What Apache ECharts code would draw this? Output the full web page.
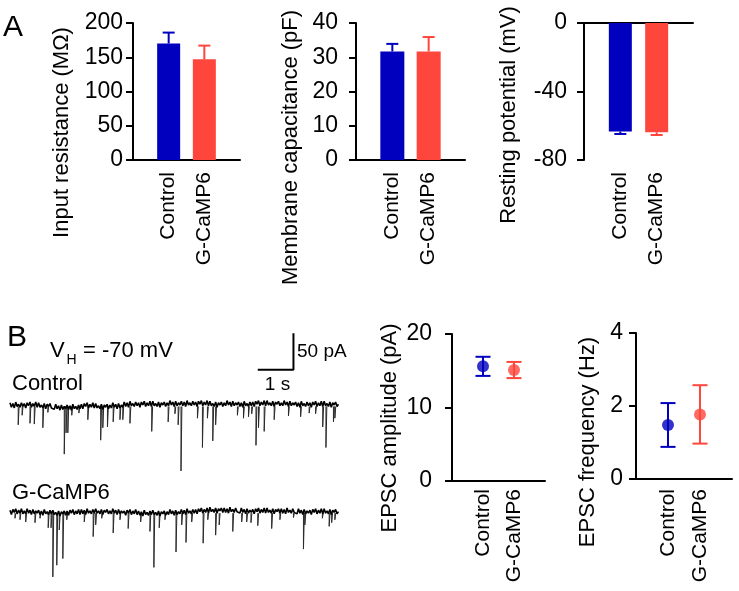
<!DOCTYPE html>
<html><head><meta charset="utf-8">
<script src="https://cdn.jsdelivr.net/npm/echarts@6/dist/echarts.min.js"></script>
<style>html,body{margin:0;padding:0;background:#fff}#c{width:739px;height:591px}</style>
</head><body><div id="c"></div>
<script>
// ---------- data ----------
const categories = ['Control', 'G-CaMP6'];
const inputResistanceMean = [170, 147];
const inputResistanceSem = [16, 20];
const capacitanceMean = [31.7, 31.7];
const capacitanceSem = [2.2, 4.2];
const restingMean = [-63.4, -63.8];
const restingSem = [1.4, 1.6];
const epscAmpMean = [15.6, 15.1];
const epscAmpSem = [1.3, 1.1];
const epscFreqMean = [1.48, 1.77];
const epscFreqSem = [0.6, 0.8];

const resistanceTicks = [0, 200, 50];
const capacitanceTicks = [0, 40, 10];
const restingTicks = [-80, 0, 40];
const ampTicks = [0, 20, 10];
const freqTicks = [0, 4, 2];

const traceStep = 0.04; // s between baseline samples (pA values)
const controlBaseline = [
 3,-3,2,-4,4,-2,1,-3,3,-2,
 2,-4,3,-1,4,-3,2,-2,4,-3,
 3,-3,0,-4,2,-5,1,-2,2,-4,
 -2,-6,1,-5,-1,-7,0,-6,-2,-5,
 0,-6,-1,-7,1,-5,-2,-6,0,-5,
 1,-5,2,-2,3,-4,1,-3,3,-4,
 2,-4,-1,-5,1,-6,0,-3,1,-5,
 0,-4,3,-3,1,-5,2,-4,0,-3,
 4,-2,3,-3,5,-1,2,-2,4,-1,
 3,-3,4,0,5,-2,3,-1,5,-2,
 5,-1,2,-2,4,-3,3,0,4,-2,
 3,-1,6,0,4,-2,5,-1,3,0,
 5,-1,4,-2,6,0,3,-1,5,0,
 4,-2,5,1,6,-1,4,0,6,-1,
 5,-1,2,-2,4,-3,3,0,4,-2,
 3,-1,6,0,4,-2,5,-1,3,0,
 4,-2,3,-3,5,-1,2,-2,4,-1,
 4,-2,5,1,6,-1,4,0,6,-1,
 6,0,3,-1,5,-2,4,1,5,-1,
 3,-1,6,0,4,-2,5,-1,3,0,
 4,-2,3,-3,5,-1,2,-2,4,-1,
 3,-3,4,0,5,-2,3,-1,5,-2,
 5,-1,2,-2,4,-3,3,0,4,-2,
 1];
const controlSpikeTime = [0.23,0.34,0.56,0.68,0.92,1.06,1.52,1.57,1.62,1.73,1.93,2.18,2.54,2.60,2.73,2.89,3.08,3.16,3.36,3.97,4.43,4.62,4.71,4.79,5.25,5.39,5.53,5.68,5.76,6.37,6.54,6.68,6.77,6.89,6.96,7.12,7.40,7.80,8.14,8.38,8.56,8.76,8.85,9.06,9.10];
const controlSpikeAmp = [-27,-14,-25,-26,-31,-10,-67,-38,-38,-14,-11,-20,-48,-31,-30,-23,-20,-20,-25,-36,-23,-12,-27,-90,-18,-58,-18,-49,-27,-14,-18,-16,-12,-55,-31,-36,-20,-15,-16,-11,-12,-30,-58,-23,-18];

const gcampBaseline = [
 2,-4,3,-1,4,-3,2,-2,4,-3,
 1,-3,4,-2,2,-4,3,-3,1,-2,
 2,-4,1,-5,3,-3,0,-4,2,-3,
 2,-4,-1,-5,1,-6,0,-3,1,-5,
 1,-5,2,-2,3,-4,1,-3,3,-4,
 3,-3,2,-4,4,-2,1,-3,3,-2,
 4,-2,1,-3,3,-4,2,-1,3,-3,
 1,-3,4,-2,2,-4,3,-3,1,-2,
 1,-5,2,-2,3,-4,1,-3,3,-4,
 1,-5,0,-6,2,-4,-1,-5,1,-4,
 2,-4,-1,-5,1,-6,0,-3,1,-5,
 0,-4,3,-3,1,-5,2,-4,0,-3,
 3,-3,2,-4,4,-2,1,-3,3,-2,
 3,-3,4,0,5,-2,3,-1,5,-2,
 6,0,3,-1,5,-2,4,1,5,-1,
 5,-1,4,-2,6,0,3,-1,5,0,
 2,-2,5,-1,3,-3,4,-2,2,-1,
 3,-3,4,0,5,-2,3,-1,5,-2,
 5,-1,2,-2,4,-3,3,0,4,-2,
 4,-2,3,-3,5,-1,2,-2,4,-1,
 1,-3,4,-2,2,-4,3,-3,1,-2,
 2,-4,3,-1,4,-3,2,-2,4,-3,
 4,-2,1,-3,3,-4,2,-1,3,-3,
 0];
const gcampSpikeTime = [0.14,0.28,0.44,0.70,0.84,1.07,1.15,1.20,1.31,1.38,1.48,1.59,2.08,2.33,2.40,2.57,2.89,3.08,3.31,3.66,3.92,4.03,4.18,4.34,4.65,4.81,4.93,5.09,5.41,5.54,5.76,5.86,6.24,6.49,6.63,6.75,6.94,7.33,7.56,7.94,8.22,8.26,8.75,8.94,9.01,9.10];
const gcampSpikeAmp = [-9,-11,-14,-15,-9,-22,-22,-89,-73,-25,-64,-11,-14,-34,-18,-9,-29,-11,-23,-14,-27,-76,-22,-11,-55,-18,-42,-14,-43,-11,-32,-18,-27,-14,-14,-15,-19,-23,-11,-8,-51,-18,-9,-20,-15,-11];

const scaleBarTime = [6.94, 7.94];   // 1 s
const scaleBarCurrent = [48, 98];    // 50 pA

// ---------- styling ----------
const colors = ['#0000BE', '#FF463C'];
const FONT = '"Liberation Sans", Arial, Helvetica, sans-serif';
const axisCats = [''].concat(categories, ['']);

function baselineData(base) {
  return base.map((v, i) => [+(i * traceStep).toFixed(3), v]);
}
function spikeData(st, sa) {
  return st.map((t, k) => [t, sa[k]]);
}
function spikeRender(params, api) {
  const t = api.value(0), a = api.value(1);
  const p0 = api.coord([t, -2]);
  const p1 = api.coord([t, a]);
  const p2 = api.coord([t + 0.025, -2]);
  return { type: 'polyline', shape: { points: [p0, p1, p2] },
    style: { stroke: '#2a2a2a', lineWidth: 1, fill: null } };
}
function barData(means) {
  return ['-'].concat(means.map((m, i) => ({ value: m, itemStyle: { color: colors[i] } })), ['-']);
}
function errData(means, sems) {
  return means.map((m, i) => [i + 1, m, sems[i], i]);
}
function errRender(mode, capHalf) {
  return function (params, api) {
    const x = api.value(0), m = api.value(1), s = api.value(2);
    const col = colors[api.value(3)];
    const top = mode === 'down' ? m : m + s;
    const bot = mode === 'up' ? m : m - s;
    const p1 = api.coord([x, top]), p2 = api.coord([x, bot]);
    const ch = [{ type: 'line', shape: { x1: p1[0], y1: p1[1], x2: p2[0], y2: p2[1] }, style: { stroke: col, lineWidth: 2 } }];
    if (mode !== 'down') ch.push({ type: 'line', shape: { x1: p1[0] - capHalf, y1: p1[1], x2: p1[0] + capHalf, y2: p1[1] }, style: { stroke: col, lineWidth: 2 } });
    if (mode !== 'up') ch.push({ type: 'line', shape: { x1: p2[0] - capHalf, y1: p2[1], x2: p2[0] + capHalf, y2: p2[1] }, style: { stroke: col, lineWidth: 2 } });
    return { type: 'group', children: ch };
  };
}

const lineStyle = { color: '#000', width: 2 };
const catLabel = (margin) => ({ show: true, rotate: 90, interval: 0, margin: margin, color: '#000', fontSize: 21, fontFamily: FONT });
function catAxis(grid, opts) {
  return Object.assign({
    type: 'category', gridIndex: grid, data: axisCats, boundaryGap: false,
    axisLine: { show: true, onZero: false, lineStyle },
    axisTick: { show: false },
    axisLabel: catLabel(12),
    splitLine: { show: false }
  }, opts || {});
}
function valAxis(grid, ticks, margin) {
  return {
    type: 'value', gridIndex: grid, min: ticks[0], max: ticks[1], interval: ticks[2],
    axisLine: { show: true, onZero: false, lineStyle },
    axisTick: { show: true, inside: false, length: 7, lineStyle },
    axisLabel: { color: '#000', fontSize: 23, fontFamily: FONT, margin: margin },
    splitLine: { show: false }
  };
}
function hiddenAxis(grid, min, max) {
  return { type: 'value', gridIndex: grid, min, max, show: false, splitLine: { show: false } };
}

function txt(text, x, y, size, opts) {
  opts = opts || {};
  return {
    type: 'text', x: x, y: y, rotation: opts.rot || 0, silent: true,
    style: {
      text: text, fill: '#000', font: size + 'px ' + FONT, fontSize: size, fontFamily: FONT,
      align: opts.align || 'left', textAlign: opts.align || 'left',
      verticalAlign: 'middle', textVerticalAlign: 'middle'
    }
  };
}

const chart = echarts.init(document.getElementById('c'), null, { renderer: 'canvas' });
const option = {
  backgroundColor: '#fff',
  animation: false,
  grid: [
    { left: 133, top: 23, width: 107, height: 137 },
    { left: 356, top: 23, width: 109, height: 137 },
    { left: 584, top: 23, width: 109, height: 137 },
    { left: 452, top: 334, width: 93, height: 147 },
    { left: 636, top: 333, width: 96, height: 146 },
    { left: 10, top: 331.7, width: 357, height: 146.6 },
    { left: 10, top: 497, width: 357, height: 88 }
  ],
  xAxis: [
    catAxis(0),
    catAxis(1),
    catAxis(2, { axisLine: { show: false, onZero: false } }),
    catAxis(2, { position: 'top', axisLabel: { show: false } }),
    catAxis(3, { axisLabel: catLabel(8) }),
    catAxis(4, { axisLabel: catLabel(10) }),
    hiddenAxis(5, 0, 10),
    hiddenAxis(6, 0, 10)
  ],
  yAxis: [
    valAxis(0, resistanceTicks, 10),
    valAxis(1, capacitanceTicks, 18),
    valAxis(2, restingTicks, 17),
    valAxis(3, ampTicks, 20),
    valAxis(4, freqTicks, 13),
    hiddenAxis(5, -100, 100),
    hiddenAxis(6, -100, 20)
  ],
  series: [
    { type: 'bar', xAxisIndex: 0, yAxisIndex: 0, barWidth: 23, data: barData(inputResistanceMean), silent: true },
    { type: 'custom', xAxisIndex: 0, yAxisIndex: 0, renderItem: errRender('up', 6), data: errData(inputResistanceMean, inputResistanceSem), encode: { x: 0, y: 1 }, z: 3, silent: true },
    { type: 'bar', xAxisIndex: 1, yAxisIndex: 1, barWidth: 24, data: barData(capacitanceMean), silent: true },
    { type: 'custom', xAxisIndex: 1, yAxisIndex: 1, renderItem: errRender('up', 6), data: errData(capacitanceMean, capacitanceSem), encode: { x: 0, y: 1 }, z: 3, silent: true },
    { type: 'bar', xAxisIndex: 2, yAxisIndex: 2, barWidth: 23, data: barData(restingMean), silent: true },
    { type: 'custom', xAxisIndex: 2, yAxisIndex: 2, renderItem: errRender('down', 6), data: errData(restingMean, restingSem), encode: { x: 0, y: 1 }, z: 3, silent: true },
    { type: 'custom', xAxisIndex: 4, yAxisIndex: 3, renderItem: errRender('both', 7.5), data: errData(epscAmpMean, epscAmpSem), encode: { x: 0, y: 1 }, z: 3, silent: true },
    { type: 'scatter', xAxisIndex: 4, yAxisIndex: 3, symbolSize: 12, z: 4, silent: true,
      data: epscAmpMean.map((m, i) => ({ value: [i + 1, m], itemStyle: { color: colors[i] } })) },
    { type: 'custom', xAxisIndex: 5, yAxisIndex: 4, renderItem: errRender('both', 7.5), data: errData(epscFreqMean, epscFreqSem), encode: { x: 0, y: 1 }, z: 3, silent: true },
    { type: 'scatter', xAxisIndex: 5, yAxisIndex: 4, symbolSize: 12, z: 4, silent: true,
      data: epscFreqMean.map((m, i) => ({ value: [i + 1, m], itemStyle: { color: colors[i] } })) },
    // traces: noisy baseline + synaptic events
    { type: 'line', xAxisIndex: 6, yAxisIndex: 5, showSymbol: false, silent: true,
      lineStyle: { color: '#000', width: 1.6 }, data: baselineData(controlBaseline) },
    { type: 'custom', xAxisIndex: 6, yAxisIndex: 5, renderItem: spikeRender, silent: true,
      data: spikeData(controlSpikeTime, controlSpikeAmp), encode: { x: 0, y: 1 } },
    { type: 'line', xAxisIndex: 7, yAxisIndex: 6, showSymbol: false, silent: true,
      lineStyle: { color: '#000', width: 1.6 }, data: baselineData(gcampBaseline) },
    { type: 'custom', xAxisIndex: 7, yAxisIndex: 6, renderItem: spikeRender, silent: true,
      data: spikeData(gcampSpikeTime, gcampSpikeAmp), encode: { x: 0, y: 1 } },
    // scale bar
    { type: 'line', xAxisIndex: 6, yAxisIndex: 5, showSymbol: false, silent: true,
      lineStyle: { color: '#000', width: 2 },
      data: [[scaleBarTime[0], scaleBarCurrent[0]], [scaleBarTime[1], scaleBarCurrent[0]], [scaleBarTime[1], scaleBarCurrent[1]]] }
  ],
  graphic: [
    txt('A', 3, 28, 30),
    txt('B', 7, 338, 30),
    txt('Input resistance (MΩ)', 62, 132.5, 22, { rot: Math.PI / 2, align: 'center' }),
    txt('Membrane capacitance (pF)', 291, 147.5, 22, { rot: Math.PI / 2, align: 'center' }),
    txt('Resting potential (mV)', 509, 115, 22, { rot: Math.PI / 2, align: 'center' }),
    txt('EPSC amplitude (pA)', 390, 428, 22, { rot: Math.PI / 2, align: 'center' }),
    txt('EPSC frequency (Hz)', 588, 442, 22, { rot: Math.PI / 2, align: 'center' }),
    txt('V', 50, 351, 22),
    txt('H', 66.5, 360, 14),
    txt('= -70 mV', 83, 351, 22),
    txt('50 pA', 297, 352, 19),
    txt('1 s', 277.5, 385, 19, { align: 'center' }),
    txt('Control', 12, 384, 22),
    txt('G-CaMP6', 12, 492.5, 22)
  ]
};
chart.setOption(option);
</script>
</body></html>
